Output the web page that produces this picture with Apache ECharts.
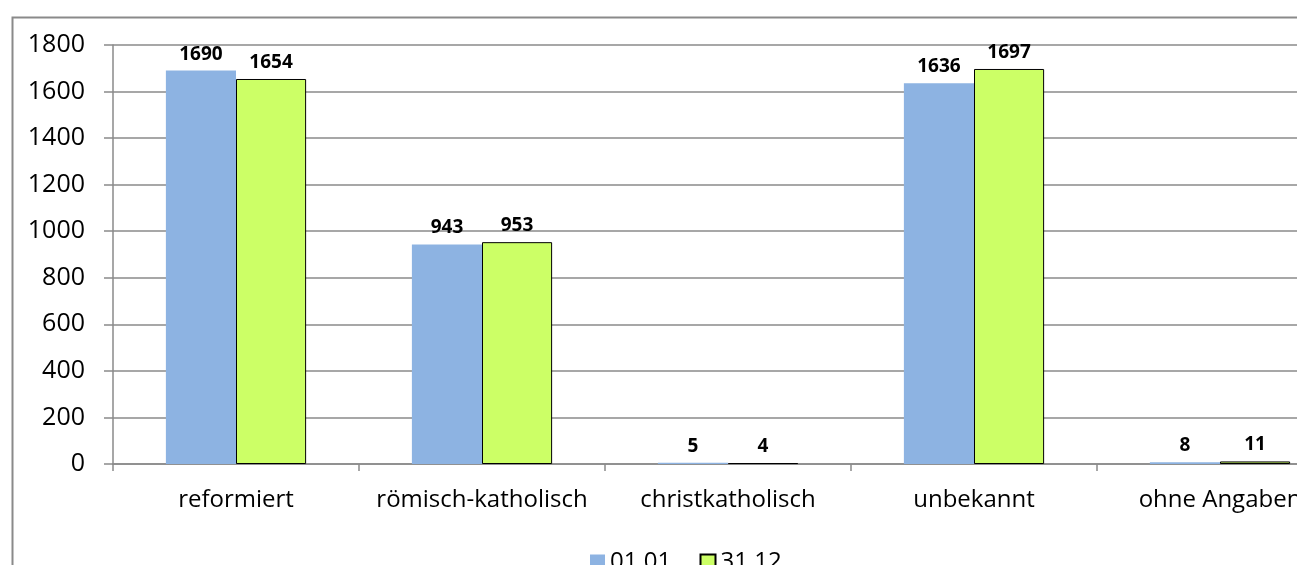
<!DOCTYPE html>
<html>
<head>
<meta charset="utf-8">
<script src="https://cdn.jsdelivr.net/npm/echarts@6/dist/echarts.min.js"></script>
<style>
html,body{margin:0;padding:0;background:#fff;}
#c{width:1297px;height:565px;}
</style>
</head>
<body>
<div id="c"></div>
<script>
const categories = ['reformiert', 'römisch-katholisch', 'christkatholisch', 'unbekannt', 'ohne Angaben'];
const seriesNames = ['01.01.', '31.12.'];
const valuesJan = [1690, 943, 5, 1636, 8];
const valuesDec = [1654, 953, 4, 1697, 11];
const yTicks = [0, 200, 400, 600, 800, 1000, 1200, 1400, 1600, 1800];

const chart = echarts.init(document.getElementById('c'), null, {renderer: 'canvas'});
const font = '"Open Sans", sans-serif';
const labelCfg = {
  show: true, position: 'top', distance: 7,
  fontFamily: font, fontWeight: 'bold', fontSize: 19, color: '#000'
};
chart.setOption({
  animation: false,
  backgroundColor: '#fff',
  graphic: [{
    type: 'rect', left: 10, top: 15, z: -1,
    shape: {width: 1400, height: 600},
    style: {fill: 'none', stroke: '#8a8a8a', lineWidth: 2}
  }],
  grid: {left: 113, top: 45, width: 1230, height: 419, containLabel: false, outerBoundsMode: 'none'},
  legend: {
    data: [
      {name: seriesNames[0], icon: 'rect', itemStyle: {borderWidth: 0}},
      {name: seriesNames[1], icon: 'rect'}
    ],
    left: 590, top: 550, padding: 0, itemWidth: 15, itemHeight: 15, itemGap: 22,
    textStyle: {fontFamily: font, fontSize: 24, color: '#000'}
  },
  xAxis: {
    type: 'category', data: categories,
    axisLine: {lineStyle: {color: '#8a8a8a', width: 1.5}},
    axisTick: {show: true, length: 7, alignWithLabel: false, lineStyle: {color: '#8a8a8a', width: 1.5}},
    axisLabel: {fontFamily: font, fontSize: 24, color: '#000', margin: 24, interval: 0}
  },
  yAxis: {
    type: 'value', min: 0, max: 1800, interval: 200,
    axisLine: {show: true, lineStyle: {color: '#8a8a8a', width: 1.5}},
    axisTick: {show: true, length: 9, lineStyle: {color: '#8a8a8a', width: 1.5}},
    splitLine: {lineStyle: {color: '#8a8a8a', width: 1.5}},
    axisLabel: {fontFamily: font, fontSize: 25, color: '#000', margin: 28,
      formatter: v => yTicks.includes(v) ? String(v) : ''}
  },
  series: [
    {name: seriesNames[0], type: 'bar', data: valuesJan, barGap: '0%', barCategoryGap: '43%',
     itemStyle: {color: '#8DB3E2'}, label: labelCfg},
    {name: seriesNames[1], type: 'bar', data: valuesDec, barGap: '0%', barCategoryGap: '43%',
     itemStyle: {color: '#CCFF66', borderColor: '#000', borderWidth: 1}, label: labelCfg}
  ]
});
</script>
</body>
</html>
